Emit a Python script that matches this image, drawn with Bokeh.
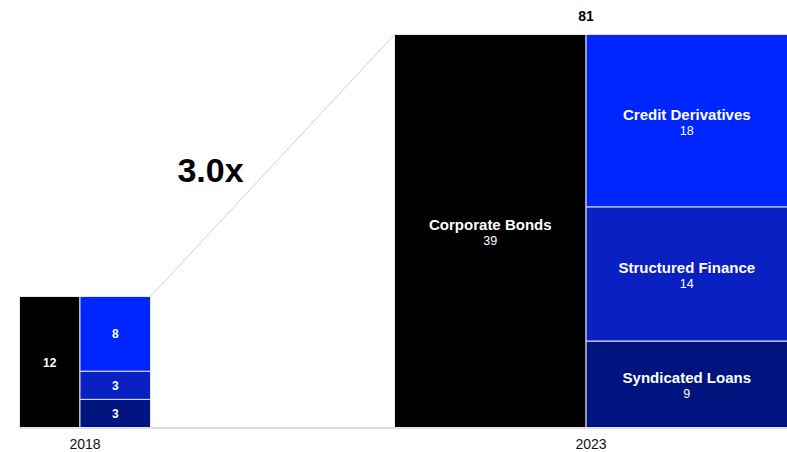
from bokeh.plotting import figure
from bokeh.models import Range1d, ColumnDataSource
from bokeh.core.properties import value
from bokeh.embed import file_html
from bokeh.resources import INLINE

# ---- data ----
years = ["2018", "2023"]
totals = [27, 81]                      # reported totals (square side)
corporate_bonds = [12, 39]
credit_derivatives = [8, 18]
structured_finance = [3, 14]
syndicated_loans = [3, 9]
blue_names = ["Credit Derivatives", "Structured Finance", "Syndicated Loans"]
multiple_label = "3.0x"
total_label_2023 = "81"

# ---- layout (pixels -> units) ----
W, H = 787, 452
S = 393 / 81.0                 # px per unit
base_px = 427                  # baseline pixel row
left_px = [19, 394]            # left edges of the two squares
FONT = "Liberation Sans"

p = figure(width=W, height=H, output_backend="svg", toolbar_location=None,
           x_range=Range1d(0, W / S), y_range=Range1d(-(H - base_px) / S, base_px / S),
           min_border=0, outline_line_color=None)
p.axis.visible = False
p.grid.visible = False
p.background_fill_color = "white"
p.border_fill_color = "white"

colors_blue = ["#0026FF", "#0A20C2", "#00147F"]

rects = dict(left=[], right=[], bottom=[], top=[], color=[])
lab_vals = dict(x=[], y=[], t=[])
lab_names = dict(x=[], y=[], t=[])
lab_vals23 = dict(x=[], y=[], t=[])

for i, yr in enumerate(years):
    side = totals[i]
    x0 = left_px[i] / S
    blues = [credit_derivatives[i], structured_finance[i], syndicated_loans[i]]
    ssum = corporate_bonds[i] + sum(blues)
    wb = side * corporate_bonds[i] / ssum
    # corporate bonds (black)
    rects["left"].append(x0); rects["right"].append(x0 + wb)
    rects["bottom"].append(0); rects["top"].append(side); rects["color"].append("#000000")
    cx, cy = x0 + wb / 2, side / 2
    if i == 0:
        lab_vals["x"].append(cx); lab_vals["y"].append(cy); lab_vals["t"].append(str(corporate_bonds[i]))
    else:
        lab_names["x"].append(cx); lab_names["y"].append(cy + 6.5 / S); lab_names["t"].append("Corporate Bonds")
        lab_vals23["x"].append(cx); lab_vals23["y"].append(cy - 9.5 / S); lab_vals23["t"].append(str(corporate_bonds[i]))
    # blue stack from top down
    bsum = sum(blues)
    top = side
    for j, v in enumerate(blues):
        h = side * v / bsum
        rects["left"].append(x0 + wb); rects["right"].append(x0 + side)
        rects["bottom"].append(top - h); rects["top"].append(top); rects["color"].append(colors_blue[j])
        bx, by = x0 + wb + (side - wb) / 2, top - h / 2
        if i == 0:
            lab_vals["x"].append(bx); lab_vals["y"].append(by); lab_vals["t"].append(str(v))
        else:
            lab_names["x"].append(bx); lab_names["y"].append(by + 6.5 / S); lab_names["t"].append(blue_names[j])
            lab_vals23["x"].append(bx); lab_vals23["y"].append(by - 9.5 / S); lab_vals23["t"].append(str(v))
        top -= h

# baseline
p.segment(x0=[left_px[0] / S], y0=[-0.5 / S], x1=[W / S], y1=[-0.5 / S], line_color="#d4d4d4", line_width=1.5)

# connector line from 2018 top-right to 2023 top-left
x_2018_right = left_px[0] / S + totals[0]
p.segment(x0=[x_2018_right], y0=[totals[0]], x1=[left_px[1] / S], y1=[totals[1]],
          line_color="#cfcfcf", line_width=1)

p.quad(left="left", right="right", bottom="bottom", top="top", fill_color="color",
       line_color="#e6e6e6", line_width=1, source=ColumnDataSource(rects))

p.text(x="x", y="y", text="t", source=ColumnDataSource(lab_vals), text_color="white",
       text_font=value(FONT), text_font_size="12px", text_font_style="bold",
       text_align="center", text_baseline="middle")
p.text(x="x", y="y", text="t", source=ColumnDataSource(lab_names), text_color="white",
       text_font=value(FONT), text_font_size="15px", text_font_style="bold",
       text_align="center", text_baseline="middle")
p.text(x="x", y="y", text="t", source=ColumnDataSource(lab_vals23), text_color="white",
       text_font=value(FONT), text_font_size="12.5px",
       text_align="center", text_baseline="middle")

# year labels
year_x = [left_px[i] / S + totals[i] / 2 for i in range(2)]
p.text(x=year_x, y=[-16 / S] * 2, text=years, text_color="#111111",
       text_font=value(FONT), text_font_size="14px", text_align="center", text_baseline="middle")

# total label for 2023 (above the black/blue boundary)
b23 = left_px[1] / S + totals[1] * corporate_bonds[1] / (corporate_bonds[1] + credit_derivatives[1] + structured_finance[1] + syndicated_loans[1])
p.text(x=[b23], y=[totals[1] + 19 / S], text=[total_label_2023], text_color="#000000",
       text_font=value(FONT), text_font_size="14px", text_font_style="bold",
       text_align="center", text_baseline="middle")

# multiple label
p.text(x=[210 / S], y=[(base_px - 169) / S], text=[multiple_label], text_color="#000000",
       text_font=value(FONT), text_font_size="34px", text_font_style="bold",
       text_align="center", text_baseline="middle")

open("out.html", "w").write(file_html(p, INLINE))
